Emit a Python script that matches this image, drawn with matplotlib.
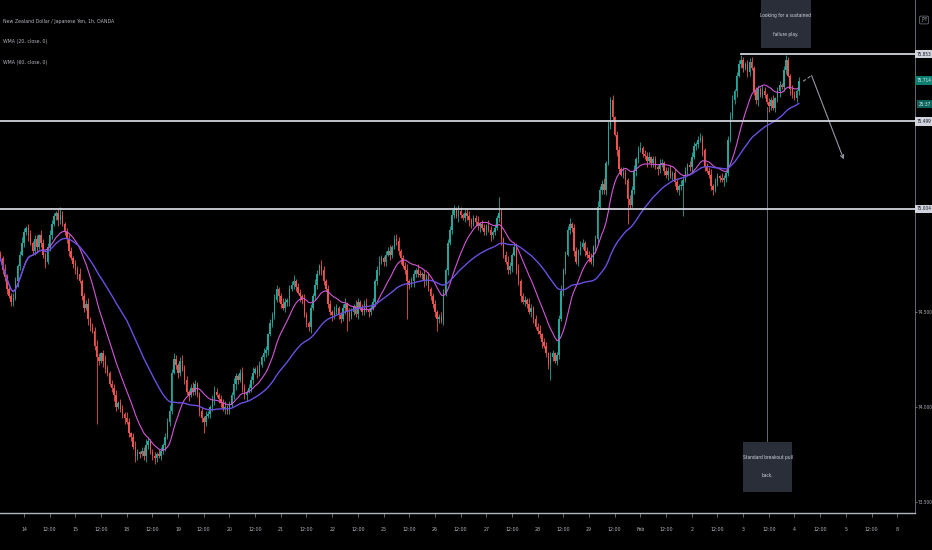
import numpy as np
import matplotlib.pyplot as plt
from matplotlib import font_manager
from matplotlib.patches import Rectangle

# pick a narrow face if one is installed
names = {f.name for f in font_manager.fontManager.ttflist}
if 'Liberation Sans Narrow' in names:
    plt.rcParams['font.family'] = ['Liberation Sans Narrow', 'DejaVu Sans']
else:
    plt.rcParams['font.family'] = ['DejaVu Sans']
    plt.rcParams['font.stretch'] = 'condensed'

# hourly closes, NZD/JPY, from Jan 13 13:00 to Feb 4 01:00 (weekends skipped)
closes = [
    74.78, 74.72, 74.68, 74.62, 74.58, 74.55, 74.57, 74.66, 74.74, 74.80,
    74.86, 74.92, 74.94, 74.90, 74.86, 74.82, 74.88, 74.84, 74.90, 74.86,
    74.80, 74.76, 74.84, 74.90, 74.96, 75.00, 75.02, 74.98, 75.01, 74.96,
    74.92, 74.88, 74.82, 74.78, 74.75, 74.72, 74.70, 74.66, 74.58, 74.52,
    74.54, 74.46, 74.42, 74.40, 74.32, 74.26, 74.24, 74.28, 74.24, 74.20,
    74.18, 74.12, 74.10, 74.06, 74.00, 74.02, 73.99, 73.96, 73.94, 73.92,
    73.86, 73.84, 73.79, 73.74, 73.76, 73.75, 73.77, 73.74, 73.80, 73.82,
    73.76, 73.74, 73.73, 73.75, 73.74, 73.77, 73.80, 73.84, 73.92, 73.98,
    74.18, 74.25, 74.22, 74.18, 74.24, 74.20, 74.14, 74.08, 74.06, 74.10,
    74.08, 74.12, 74.06, 73.98, 73.94, 73.92, 73.95, 73.96, 74.00, 74.04,
    74.08, 74.06, 74.04, 74.02, 73.99, 74.00, 73.98, 74.01, 74.06, 74.12,
    74.16, 74.14, 74.18, 74.10, 74.06, 74.08, 74.10, 74.14, 74.18, 74.20,
    74.18, 74.22, 74.26, 74.28, 74.30, 74.38, 74.44, 74.48, 74.56, 74.62,
    74.58, 74.54, 74.52, 74.55, 74.56, 74.62, 74.64, 74.66, 74.63, 74.60,
    74.58, 74.56, 74.48, 74.44, 74.42, 74.52, 74.58, 74.64, 74.70, 74.74,
    74.72, 74.66, 74.62, 74.54, 74.50, 74.48, 74.50, 74.52, 74.48, 74.46,
    74.52, 74.54, 74.50, 74.47, 74.50, 74.53, 74.49, 74.55, 74.52, 74.50,
    74.54, 74.51, 74.50, 74.52, 74.55, 74.66, 74.72, 74.76, 74.78, 74.76,
    74.80, 74.82, 74.80, 74.84, 74.88, 74.87, 74.82, 74.78, 74.74, 74.72,
    74.66, 74.64, 74.66, 74.70, 74.72, 74.70, 74.69, 74.70, 74.66, 74.68,
    74.62, 74.58, 74.54, 74.50, 74.46, 74.47, 74.45, 74.60, 74.72, 74.86,
    74.93, 75.01, 75.04, 75.00, 75.03, 75.01, 74.99, 75.02, 75.00, 74.98,
    74.96, 74.99, 74.97, 74.95, 74.96, 74.94, 74.92, 74.95, 74.93, 74.90,
    74.92, 74.94, 74.99, 75.02, 74.88, 74.80, 74.76, 74.72, 74.74, 74.80,
    74.84, 74.72, 74.66, 74.58, 74.55, 74.56, 74.54, 74.50, 74.52, 74.46,
    74.42, 74.40, 74.38, 74.34, 74.32, 74.28, 74.22, 74.26, 74.28, 74.24,
    74.27, 74.46, 74.61, 74.72, 74.80, 74.93, 74.96, 74.94, 74.82, 74.76,
    74.82, 74.84, 74.86, 74.82, 74.80, 74.78, 74.76, 74.84, 74.88, 75.05,
    75.14, 75.17, 75.14, 75.28, 75.48, 75.61, 75.52, 75.43, 75.35, 75.25,
    75.22, 75.23, 75.19, 75.09, 75.06, 75.14, 75.24, 75.30, 75.35, 75.36,
    75.33, 75.32, 75.29, 75.31, 75.28, 75.30, 75.26, 75.25, 75.27, 75.28,
    75.24, 75.22, 75.24, 75.21, 75.23, 75.18, 75.14, 75.16, 75.16, 75.19,
    75.24, 75.27, 75.26, 75.31, 75.37, 75.38, 75.40, 75.41, 75.35, 75.26,
    75.24, 75.22, 75.16, 75.14, 75.18, 75.21, 75.20, 75.19, 75.20, 75.23,
    75.40, 75.53, 75.61, 75.66, 75.74, 75.80, 75.82, 75.78, 75.80, 75.76,
    75.81, 75.78, 75.66, 75.61, 75.67, 75.64, 75.66, 75.64, 75.60, 75.58,
    75.61, 75.57, 75.62, 75.66, 75.69, 75.68, 75.77, 75.82, 75.74, 75.67,
    75.64, 75.62, 75.66, 75.714,
]
first_open = 74.80

# wick lengths in pips (0.01)
wick_up = [
    2, 1, 3, 2, 1, 2, 3, 2, 1, 2, 3, 2, 1, 2, 3, 1, 2, 2, 1, 3,
    2, 1, 2, 3, 2, 2, 1, 2, 4, 2, 1, 2, 3, 2, 1, 2, 2, 3, 1, 2,
    2, 3, 1, 2, 2, 3, 2, 1, 2, 3, 2, 1, 2, 2, 3, 1, 2, 2, 1, 3,
    2, 1, 2, 3, 2, 1, 2, 2, 3, 2, 1, 2, 2, 1, 3, 2, 1, 2, 2, 3,
    2, 3, 2, 1, 2, 3, 2, 2, 1, 2, 3, 2, 1, 2, 2, 1, 3, 2, 1, 2,
    3, 2, 1, 2, 2, 3, 1, 2, 2, 3, 2, 1, 2, 3, 2, 1, 2, 2, 3, 1,
    2, 2, 1, 3, 2, 1, 2, 2, 3, 2, 1, 2, 3, 2, 1, 2, 2, 3, 1, 2,
    2, 1, 3, 2, 1, 2, 2, 3, 2, 1, 3, 2, 1, 2, 2, 1, 3, 2, 1, 2,
    2, 3, 1, 2, 2, 1, 3, 2, 1, 2, 2, 3, 1, 2, 2, 1, 2, 3, 2, 1,
    2, 2, 3, 1, 2, 3, 2, 1, 2, 2, 3, 1, 2, 2, 1, 3, 2, 1, 2, 2,
    3, 1, 2, 2, 1, 2, 3, 2, 1, 2, 2, 3, 2, 1, 3, 2, 1, 2, 2, 3,
    1, 2, 2, 3, 1, 2, 2, 1, 3, 2, 1, 2, 2, 8, 2, 1, 2, 3, 2, 1,
    2, 2, 3, 1, 2, 2, 1, 3, 2, 1, 2, 2, 3, 1, 2, 2, 1, 3, 2, 1,
    2, 2, 3, 1, 2, 2, 3, 1, 2, 2, 1, 3, 2, 1, 2, 2, 3, 1, 2, 3,
    2, 2, 3, 1, 2, 2, 3, 1, 2, 2, 1, 3, 2, 1, 2, 2, 3, 1, 2, 3,
    1, 2, 2, 3, 1, 2, 2, 1, 3, 2, 1, 2, 2, 3, 1, 2, 2, 1, 3, 2,
    2, 1, 2, 3, 2, 1, 2, 3, 2, 1, 2, 2, 3, 1, 2, 2, 1, 3, 2, 1,
    2, 2, 3, 1, 2, 2, 3, 2, 1, 2, 2, 3, 1, 2, 2, 1, 3, 2, 1, 2,
    2, 3, 1, 2, 2, 1, 2, 3, 2, 1, 2, 2, 1, 2,
]
wick_dn = [
    1, 2, 2, 3, 1, 2, 2, 1, 3, 2, 1, 2, 2, 3, 1, 2, 2, 3, 1, 2,
    2, 3, 1, 2, 2, 1, 2, 3, 2, 1, 2, 2, 3, 1, 2, 2, 3, 1, 2, 2,
    1, 3, 2, 1, 2, 35, 2, 1, 3, 2, 2, 1, 2, 3, 2, 1, 2, 2, 3, 1,
    2, 2, 1, 3, 2, 2, 1, 2, 3, 2, 1, 2, 3, 2, 1, 2, 2, 3, 1, 2,
    2, 1, 2, 3, 2, 1, 2, 2, 3, 1, 2, 2, 1, 3, 2, 6, 2, 1, 2, 2,
    3, 1, 2, 2, 1, 3, 2, 2, 1, 2, 3, 2, 1, 2, 2, 3, 1, 2, 2, 1,
    3, 2, 1, 2, 2, 3, 1, 2, 2, 1, 3, 2, 1, 2, 2, 3, 1, 2, 2, 1,
    3, 2, 1, 2, 2, 3, 1, 2, 2, 1, 3, 2, 1, 2, 2, 3, 2, 1, 2, 2,
    1, 3, 10, 2, 1, 2, 2, 3, 1, 2, 2, 1, 3, 2, 1, 2, 2, 3, 1, 2,
    2, 1, 3, 2, 1, 2, 2, 3, 1, 2, 20, 2, 1, 3, 2, 2, 1, 2, 3, 2,
    1, 2, 2, 3, 6, 2, 1, 2, 2, 3, 1, 2, 2, 1, 3, 2, 1, 2, 2, 3,
    2, 1, 2, 2, 3, 1, 2, 2, 1, 3, 2, 2, 1, 2, 3, 2, 1, 2, 2, 3,
    1, 2, 2, 3, 1, 2, 2, 1, 3, 2, 1, 2, 2, 3, 1, 2, 2, 8, 2, 1,
    2, 2, 1, 3, 2, 1, 2, 2, 3, 1, 2, 2, 1, 3, 2, 2, 1, 2, 3, 2,
    1, 2, 2, 3, 1, 2, 2, 1, 3, 2, 1, 2, 2, 13, 2, 1, 2, 3, 2, 1,
    2, 2, 3, 1, 2, 2, 1, 3, 2, 1, 2, 2, 3, 1, 2, 2, 1, 3, 2, 16,
    1, 2, 2, 3, 1, 2, 2, 1, 3, 2, 1, 2, 2, 3, 1, 2, 2, 1, 3, 2,
    2, 1, 2, 2, 3, 1, 2, 2, 1, 3, 2, 1, 2, 2, 3, 1, 2, 2, 1, 3,
    2, 1, 2, 2, 3, 1, 2, 2, 1, 3, 2, 1, 2, 2,
]

time_labels = ["14", "12:00", "15", "12:00", "18", "12:00", "19", "12:00",
               "20", "12:00", "21", "12:00", "22", "12:00", "25", "12:00",
               "26", "12:00", "27", "12:00", "28", "12:00", "29", "12:00",
               "Feb", "12:00", "2", "12:00", "3", "12:00", "4", "12:00",
               "5", "12:00", "8"]
first_tick_bar = 11  # Jan 14 00:00

levels = [75.853, 75.499, 75.04]
level_labels = ["75.853", "75.499", "75.004"]
level_start = [346, -1, -1]

price_ticks = [73.5, 74.0, 74.5]
last_price_label = "75.714"
countdown_label = "25:37"

# projected path drawn on the chart
proj_x = [375, 379, 394]
proj_y = [75.71, 75.74, 75.30]

note_top = ["Looking for a sustained", "failure play."]
note_bottom = ["Standard breakout pull", "back."]

up_col = '#26a69a'
dn_col = '#ef5350'
txt_col = '#b2b5be'
FS = 3.8
FS_AX = 3.4
FS_NOTE = 3.5


def wma(vals, n):
    out = []
    for k in range(len(vals)):
        win = np.array(vals[max(0, k - n + 1):k + 1])
        w = np.arange(1, len(win) + 1)
        out.append((win * w).sum() / w.sum())
    return np.array(out)


n = min(len(closes), len(wick_up), len(wick_dn))
c = np.array(closes[:n])
o = np.r_[first_open, c[:-1]]
hi = np.maximum(o, c) + np.array(wick_up[:n]) * 0.01
lo = np.minimum(o, c) - np.array(wick_dn[:n]) * 0.01
idx = np.arange(n)
cols = np.where(c >= o, up_col, dn_col)

fig = plt.figure(figsize=(9.32, 5.5), dpi=100, facecolor='black')
ax = fig.add_axes([0, 37 / 550, 915 / 932, 513 / 550], facecolor='black')

ax.vlines(idx, lo, hi, colors=cols, linewidth=0.6, zorder=2)
ax.bar(idx, np.maximum(np.abs(c - o), 0.004), bottom=np.minimum(o, c),
       width=0.7, color=cols, linewidth=0, zorder=3)

ax.plot(idx, wma(list(c), 20), color='#d257d8', lw=0.8, zorder=4)
ax.plot(idx, wma(list(c), 60), color='#6b4fe0', lw=1.0, zorder=4)

for lv, st in zip(levels, level_start):
    ax.plot([st, 440], [lv, lv], color='#d1d4dc', lw=1.3, zorder=5)

# callout pointer and projection
ax.plot([358, 358], [73.815, 75.575], color='#787b86', lw=0.6, zorder=1)
ax.plot(proj_x[:2], proj_y[:2], color='#9598a1', lw=0.8, ls=(0, (3, 2)), zorder=5)
ax.annotate('', xy=(proj_x[2], proj_y[2]), xytext=(proj_x[1], proj_y[1]),
            arrowprops=dict(arrowstyle='->', color='#9598a1', lw=0.8,
                            mutation_scale=6, shrinkA=0, shrinkB=0))

# note boxes
ax.add_patch(Rectangle((355.2, 75.884), 23.5, 0.4, fc='#2a2e39', ec='none', zorder=6))
ax.text(367.0, 76.058, note_top[0], ha='center', va='center', fontsize=FS_NOTE,
        color='#d1d4dc', zorder=7)
ax.text(367.0, 75.958, note_top[1], ha='center', va='center', fontsize=FS_NOTE,
        color='#d1d4dc', zorder=7)
ax.add_patch(Rectangle((347, 73.553), 23, 0.262, fc='#2a2e39', ec='none', zorder=6))
ax.text(358.5, 73.735, note_bottom[0], ha='center', va='center', fontsize=FS_NOTE,
        color='#d1d4dc', zorder=7)
ax.text(358.5, 73.64, note_bottom[1], ha='center', va='center', fontsize=FS_NOTE,
        color='#d1d4dc', zorder=7)

ax.set_xlim(-0.2, 427.3)
ax.set_ylim(73.442, 76.137)

ticks = [first_tick_bar + 12 * k for k in range(len(time_labels))]
ax.set_xticks(ticks)
ax.set_xticklabels(time_labels)
ax.tick_params(axis='x', colors='#787b86', labelcolor=txt_col, labelsize=FS,
               length=3, width=0.6, pad=7)

ax.yaxis.tick_right()
ax.set_yticks(price_ticks)
ax.set_yticklabels(["%.3f" % p for p in price_ticks])
ax.tick_params(axis='y', colors='#787b86', labelcolor=txt_col, labelsize=FS_AX,
               length=1.5, width=0.6, pad=0.5)

for s in ['top', 'left']:
    ax.spines[s].set_visible(False)
ax.spines['bottom'].set_color('#b2b5be')
ax.spines['bottom'].set_linewidth(1.0)
ax.spines['right'].set_color('#787b86')
ax.spines['right'].set_linewidth(0.6)

yt = ax.get_yaxis_transform()
for lv, lb in zip(levels, level_labels):
    ax.text(1.0015, lv, lb, transform=yt, ha='left', va='center', fontsize=FS_AX,
            color='#131722', clip_on=False,
            bbox=dict(boxstyle='square,pad=0.35', fc='#d1d4dc', ec='none'))
ax.text(1.0015, c[-1], last_price_label, transform=yt, ha='left', va='center',
        fontsize=FS_AX, color='#e0f2f1', clip_on=False,
        bbox=dict(boxstyle='square,pad=0.35', fc='#0d7d70', ec='none'))
ax.text(1.004, 75.59, countdown_label, transform=yt, ha='left', va='center',
        fontsize=FS_AX, color='#e0f2f1', clip_on=False,
        bbox=dict(boxstyle='square,pad=0.35', fc='#0b6258', ec='none'))

fig.text(924 / 932, 1 - 20 / 550, "JPY", ha='center', va='center',
         fontsize=FS_AX, color=txt_col,
         bbox=dict(boxstyle='round,pad=0.3', fc='black', ec='#787b86', lw=0.5))

fig.text(3 / 932, 1 - 21 / 550, "New Zealand Dollar / Japanese Yen, 1h, OANDA",
         ha='left', va='center', fontsize=FS, color=txt_col)
fig.text(3 / 932, 1 - 42 / 550, "WMA (20, close, 0)", ha='left', va='center',
         fontsize=FS, color=txt_col)
fig.text(3 / 932, 1 - 62 / 550, "WMA (60, close, 0)", ha='left', va='center',
         fontsize=FS, color=txt_col)

fig.savefig('out.png', dpi=100, facecolor='black')
